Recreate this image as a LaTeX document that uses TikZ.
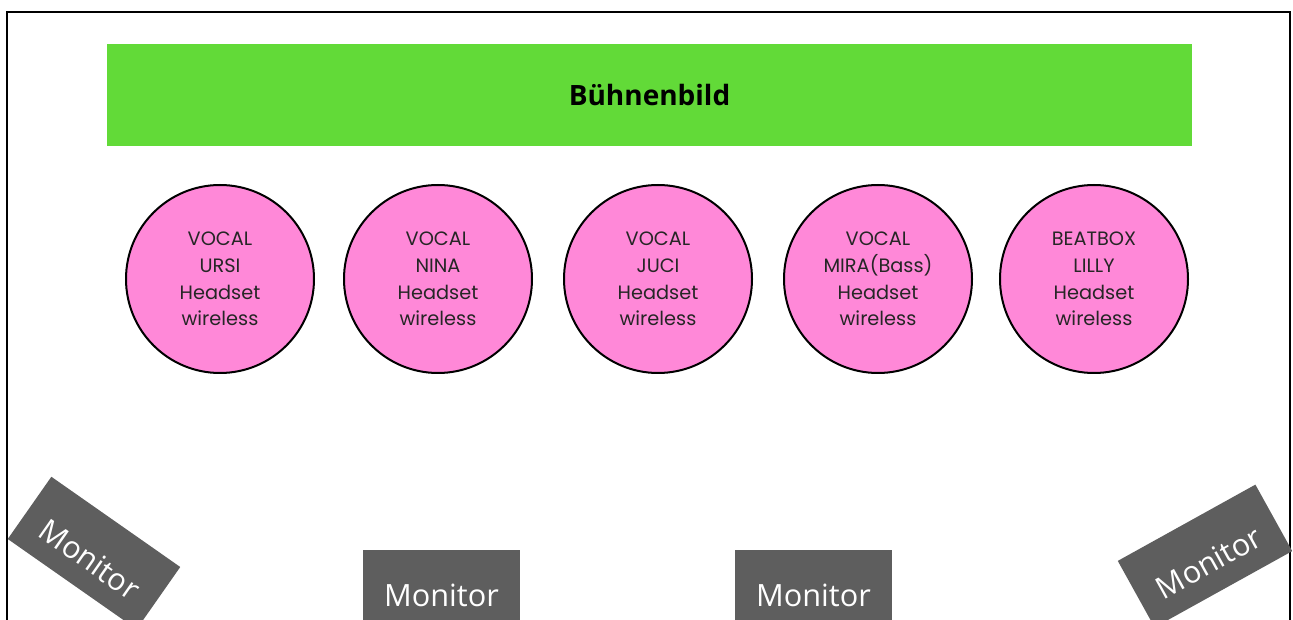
\documentclass[tikz,border=0pt]{standalone}
\usepackage{fontspec}
\newfontfamily\singerfont{Poppins}
\newfontfamily\monfont{Open Sans}
\definecolor{stagegreen}{HTML}{62DA38}
\definecolor{singerpink}{HTML}{FF88D8}
\definecolor{mongray}{HTML}{5E5E5E}
\tikzset{
  singer/.style={circle, draw=black, line width=1.5pt, fill=singerpink,
    minimum size=141pt, inner sep=0pt, align=center,
    font=\singerfont\fontsize{14.5}{20}\selectfont, text=black!85},
  monbox/.style={fill=mongray, minimum width=118pt, minimum height=57pt,
    inner sep=0pt, text=white, text height=28pt, text depth=0pt,
    font=\monfont\fontsize{23}{26}\selectfont},
}
\begin{document}
\begin{tikzpicture}[x=0.75pt, y=-0.75pt]
      \useasboundingbox (0,0) rectangle (1293,620);
      \draw[line width=1.5pt] (7,12) rectangle (1290,660);
      % stage backdrop
      \node[fill=stagegreen, minimum width=813.75pt, minimum height=76.5pt,
        inner sep=0pt, font=\monfont\bfseries\fontsize{21}{24}\selectfont]
        (stage) at (649.5,95) {Bühnenbild};
      % singers
      \node[singer] (ursi) at (220,279) {VOCAL\\URSI\\Headset\\wireless};
      \node[singer] (nina) at (438,279) {VOCAL\\NINA\\Headset\\wireless};
      \node[singer] (juci) at (658,279) {VOCAL\\JUCI\\Headset\\wireless};
      \node[singer] (mira) at (878,279) {VOCAL\\MIRA(Bass)\\Headset\\wireless};
      \node[singer] (lilly) at (1094,279) {BEATBOX\\LILLY\\Headset\\wireless};
      % monitors
      \node[monbox, rotate=-35] (monleft) at (94,553) {Monitor};
      \node[monbox] (monmidleft) at (441.5,588) {Monitor};
      \node[monbox] (monmidright) at (813.5,588) {Monitor};
      \node[monbox, rotate=29] (monright) at (1205,556) {Monitor};
    \end{tikzpicture}
\end{document}
